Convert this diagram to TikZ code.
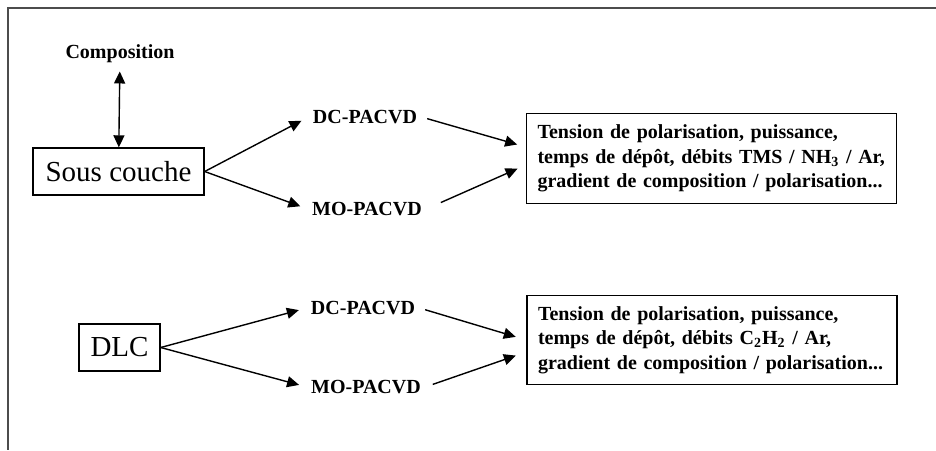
\documentclass[tikz,border=0pt]{standalone}
\usepackage{fontspec}
\setmainfont{Liberation Serif}
\usepackage{tikz}
\usetikzlibrary{arrows.meta,positioning}

\begin{document}
\begin{tikzpicture}[
  x=0.5pt, y=-0.5pt,
  every node/.style={font=\fontsize{10}{12.3}\selectfont\bfseries, inner sep=2pt},
  layer/.style={draw, line width=0.7pt, font=\fontsize{14.5}{16}\selectfont, inner sep=0pt, minimum height=23.5pt},
  params/.style={draw, line width=0.7pt, align=left, text width=174pt, inner sep=5.5pt, minimum height=42.5pt},
  link/.style={draw, line width=0.7pt, -{Triangle[length=6pt,width=5.5pt]}}
]
  \useasboundingbox (0,0) rectangle (936,450);
  % frame
  \draw[line width=0.75pt, black!70] (936,8) -- (8,8) -- (8,450);

  % sous couche
  \node (comp) at (120,54) {Composition};
  \node[layer, minimum width=85.5pt] (sous) at (118.5,171.5) {Sous couche};
  \node (dc1) at (365,117) {DC-PACVD};
  \node (mo1) at (367,209) {MO-PACVD};
  \node[params] (p1) at (711.5,158.5) {Tension de polarisation, puissance,\\
    temps de dépôt, débits TMS / NH\textsubscript{3} / Ar,\\
    gradient de composition / polarisation...};

  \draw[link, {Triangle[length=6pt,width=5.5pt]}-{Triangle[length=6pt,width=5.5pt]}, shorten <=2pt] (comp) -- (sous);
  \draw[link, shorten >=4pt] (sous.east) -- (dc1.west);
  \draw[link, shorten >=4pt] (sous.east) -- (mo1.west);
  \draw[link, shorten <=3pt, shorten >=4.5pt] (dc1.east) -- ([yshift=5.75pt]p1.west);
  \draw[link, shorten <=8pt, shorten >=4.5pt] (mo1.east) -- ([yshift=-3.25pt]p1.west);

  % DLC
  \node[layer, minimum width=40.5pt] (dlc) at (119.5,347.5) {DLC};
  \node (dc2) at (363,308) {DC-PACVD};
  \node (mo2) at (366,387) {MO-PACVD};
  \node[params] (p2) at (712,340) {Tension de polarisation, puissance,\\
    temps de dépôt, débits C\textsubscript{2}H\textsubscript{2} / Ar,\\
    gradient de composition / polarisation...};

  \draw[link, shorten >=4pt] (dlc.east) -- (dc2.west);
  \draw[link, shorten >=4pt] (dlc.east) -- (mo2.west);
  \draw[link, shorten <=3pt, shorten >=5.5pt] (dc2.east) -- (p2.west);
  \draw[link, shorten <=4pt, shorten >=5.5pt] (mo2.east) -- ([yshift=-6pt]p2.west);
\end{tikzpicture}
\end{document}
